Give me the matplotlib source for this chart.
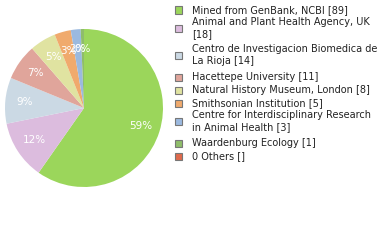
import math
import matplotlib
matplotlib.use('Agg')
import matplotlib.pyplot as plt
from matplotlib.patches import Rectangle

names = ['Mined from GenBank, NCBI',
         'Animal and Plant Health Agency, UK\n',
         'Centro de Investigacion Biomedica de\nLa Rioja',
         'Hacettepe University',
         'Natural History Museum, London',
         'Smithsonian Institution',
         'Centre for Interdisciplinary Research\nin Animal Health',
         'Waardenburg Ecology',
         '0 Others']
counts = [89, 18, 14, 11, 8, 5, 3, 1, None]
colores = ['#9bd65b', '#dcbcde', '#cbd9e4', '#e0a59b', '#e0e3a1',
           '#f0aa6d', '#9bb9df', '#8fbd6a', '#df6a4c']

W, H = 380, 240
fig = plt.figure(figsize=(W / 100, H / 100), dpi=100)

# pie
valores = [c for c in counts if c]
ax = fig.add_axes([5 / W, 53 / H, 158 / W, 158 / H])
ax.pie(valores, colors=colores[:len(valores)], startangle=90, counterclock=False,
       autopct=lambda p: '%d%%' % math.floor(p + 1e-9), pctdistance=0.75,
       textprops={'color': 'white', 'fontsize': 7.5}, wedgeprops={'linewidth': 0})
ax.set_xlim(-1, 1)
ax.set_ylim(-1, 1)
ax.set_aspect('equal')
ax.axis('off')

# legend
filas = [10, 28, 55, 77, 90, 103, 121, 143, 156]
for nombre, c, col, y in zip(names, counts, colores, filas):
    sep = '' if nombre.endswith('\n') else ' '
    etiqueta = '%s%s[%s]' % (nombre, sep, '' if c is None else c)
    fig.patches.append(Rectangle((175 / W, 1 - (y + 3.5) / H), 7 / W, 7 / H,
                                 transform=fig.transFigure, facecolor=col,
                                 edgecolor='#777777', linewidth=0.8))
    fig.text(192 / W, 1 - y / H, etiqueta, fontsize=7, color='#222222',
             va='center', ha='left', linespacing=1.25)

plt.savefig('out.png', dpi=100)
